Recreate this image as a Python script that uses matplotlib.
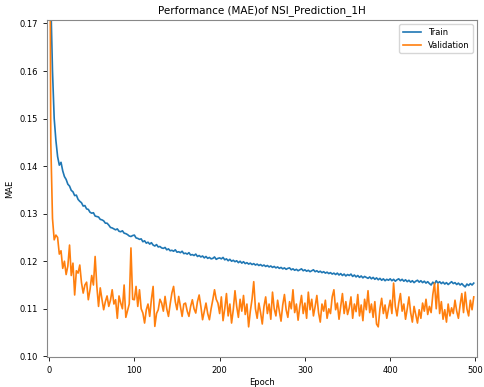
import numpy as np
import matplotlib
matplotlib.use('Agg')
import matplotlib.pyplot as plt

# Epochs (every second epoch)
epochs = np.arange(0, 500, 2)

# Training MAE
train_mae = [
    0.2450, 0.1750, 0.1600, 0.1500, 0.1454, 0.1420, 0.1402, 0.1408, 0.1390, 0.1378,
    0.1372, 0.1362, 0.1358, 0.1349, 0.1346, 0.1338, 0.1339, 0.1330, 0.1326, 0.1323,
    0.1316, 0.1317, 0.1310, 0.1309, 0.1303, 0.1301, 0.1302, 0.1295, 0.1294, 0.1293,
    0.1288, 0.1287, 0.1285, 0.1280, 0.1280, 0.1276, 0.1271, 0.1270, 0.1268, 0.1266,
    0.1268, 0.1263, 0.1262, 0.1264, 0.1259, 0.1258, 0.1256, 0.1253, 0.1252, 0.1254,
    0.1255, 0.1249, 0.1248, 0.1246, 0.1247, 0.1241, 0.1243, 0.1238, 0.1240, 0.1236,
    0.1239, 0.1234, 0.1232, 0.1235, 0.1230, 0.1231, 0.1228, 0.1227, 0.1229, 0.1224,
    0.1226, 0.1222, 0.1223, 0.1221, 0.1224, 0.1219, 0.1220, 0.1218, 0.1221, 0.1216,
    0.1217, 0.1215, 0.1218, 0.1213, 0.1214, 0.1212, 0.1215, 0.1210, 0.1212, 0.1209,
    0.1211, 0.1207, 0.1210, 0.1206, 0.1208, 0.1205, 0.1206, 0.1209, 0.1204, 0.1206,
    0.1207, 0.1205, 0.1208, 0.1203, 0.1205, 0.1201, 0.1204, 0.1200, 0.1202, 0.1199,
    0.1201, 0.1197, 0.1200, 0.1196, 0.1199, 0.1195, 0.1197, 0.1194, 0.1196, 0.1193,
    0.1195, 0.1192, 0.1194, 0.1191, 0.1193, 0.1190, 0.1192, 0.1189, 0.1191, 0.1188,
    0.1190, 0.1187, 0.1189, 0.1186, 0.1188, 0.1185, 0.1187, 0.1184, 0.1186, 0.1183,
    0.1185, 0.1186, 0.1182, 0.1184, 0.1181, 0.1183, 0.1180, 0.1182, 0.1184, 0.1180,
    0.1182, 0.1179, 0.1181, 0.1178, 0.1180, 0.1182, 0.1178, 0.1180, 0.1177, 0.1179,
    0.1176, 0.1178, 0.1175, 0.1177, 0.1174, 0.1176, 0.1173, 0.1175, 0.1172, 0.1175,
    0.1171, 0.1174, 0.1170, 0.1173, 0.1169, 0.1172, 0.1170, 0.1173, 0.1168, 0.1171,
    0.1167, 0.1170, 0.1166, 0.1169, 0.1165, 0.1168, 0.1166, 0.1164, 0.1167, 0.1163,
    0.1166, 0.1162, 0.1165, 0.1161, 0.1164, 0.1160, 0.1163, 0.1159, 0.1162, 0.1160,
    0.1163, 0.1159, 0.1162, 0.1158, 0.1161, 0.1163, 0.1159, 0.1162, 0.1158, 0.1161,
    0.1157, 0.1160, 0.1156, 0.1159, 0.1155, 0.1158, 0.1160, 0.1156, 0.1159, 0.1155,
    0.1158, 0.1154, 0.1157, 0.1153, 0.1150, 0.1156, 0.1152, 0.1159, 0.1154, 0.1157,
    0.1153, 0.1156, 0.1152, 0.1155, 0.1151, 0.1154, 0.1157, 0.1153, 0.1155, 0.1151,
    0.1154, 0.1150, 0.1153, 0.1149, 0.1146, 0.1152, 0.1149, 0.1153, 0.1150, 0.1154,
]

# Validation MAE
val_mae = [
    0.2350, 0.1450, 0.1290, 0.1245, 0.1255, 0.1250, 0.1215, 0.1222, 0.1185, 0.1200,
    0.1172, 0.1190, 0.1234, 0.1170, 0.1196, 0.1129, 0.1180, 0.1175, 0.1192, 0.1155,
    0.1133, 0.1150, 0.1156, 0.1119, 0.1140, 0.1170, 0.1150, 0.1210, 0.1147, 0.1105,
    0.1144, 0.1120, 0.1098, 0.1115, 0.1127, 0.1105, 0.1118, 0.1140, 0.1110, 0.1119,
    0.1080, 0.1127, 0.1112, 0.1100, 0.1150, 0.1082, 0.1096, 0.1110, 0.1228, 0.1120,
    0.1119, 0.1147, 0.1105, 0.1140, 0.1100, 0.1091, 0.1070, 0.1098, 0.1110, 0.1084,
    0.1120, 0.1147, 0.1063, 0.1090, 0.1098, 0.1120, 0.1112, 0.1095, 0.1126, 0.1100,
    0.1084, 0.1110, 0.1133, 0.1147, 0.1115, 0.1098, 0.1126, 0.1105, 0.1084, 0.1110,
    0.1112, 0.1095, 0.1084, 0.1105, 0.1119, 0.1100, 0.1091, 0.1115, 0.1129, 0.1105,
    0.1077, 0.1095, 0.1112, 0.1090, 0.1077, 0.1100, 0.1119, 0.1140, 0.1120, 0.1112,
    0.1090, 0.1125, 0.1075, 0.1100, 0.1132, 0.1085, 0.1110, 0.1070, 0.1098, 0.1138,
    0.1105, 0.1082, 0.1120, 0.1095, 0.1128, 0.1088, 0.1110, 0.1062, 0.1095, 0.1120,
    0.1157, 0.1100, 0.1080, 0.1112, 0.1092, 0.1068, 0.1105, 0.1125, 0.1090, 0.1110,
    0.1078, 0.1135, 0.1100, 0.1085, 0.1118, 0.1095, 0.1074, 0.1108, 0.1130, 0.1098,
    0.1082, 0.1115, 0.1100, 0.1140, 0.1092, 0.1110, 0.1076, 0.1105, 0.1128, 0.1090,
    0.1112, 0.1080, 0.1135, 0.1098, 0.1120, 0.1085, 0.1105, 0.1128, 0.1092, 0.1072,
    0.1110, 0.1095, 0.1118, 0.1080, 0.1100, 0.1090, 0.1125, 0.1140, 0.1098, 0.1112,
    0.1078, 0.1105, 0.1132, 0.1090, 0.1115, 0.1088, 0.1102, 0.1125, 0.1080, 0.1110,
    0.1094, 0.1130, 0.1085, 0.1108, 0.1075, 0.1120, 0.1098, 0.1138, 0.1092, 0.1110,
    0.1082, 0.1115, 0.1068, 0.1062, 0.1100, 0.1122, 0.1090, 0.1108, 0.1080, 0.1100,
    0.1118, 0.1090, 0.1154, 0.1105, 0.1085, 0.1112, 0.1132, 0.1095, 0.1110, 0.1078,
    0.1100, 0.1125, 0.1092, 0.1072, 0.1105, 0.1088, 0.1070, 0.1098, 0.1080, 0.1112,
    0.1095, 0.1120, 0.1088, 0.1105, 0.1092, 0.1130, 0.1154, 0.1100, 0.1152, 0.1090,
    0.1115, 0.1078, 0.1098, 0.1072, 0.1110, 0.1085, 0.1102, 0.1090, 0.1118, 0.1095,
    0.1080, 0.1108, 0.1132, 0.1092, 0.1135, 0.1100, 0.1085, 0.1118, 0.1098, 0.1125,
]

fig = plt.figure(figsize=(4.84, 3.87), dpi=100)
ax = fig.add_axes([0.097, 0.078, 0.888, 0.870])

ax.plot(epochs, train_mae, color='#1f77b4', linewidth=1.2, label='Train')
ax.plot(epochs, val_mae, color='#ff7f0e', linewidth=1.2, label='Validation')

ax.set_xlim(-2.5, 501.5)
ax.set_ylim(0.0999, 0.1707)
ax.set_xticks([0, 100, 200, 300, 400, 500])
ax.set_yticks([0.10, 0.11, 0.12, 0.13, 0.14, 0.15, 0.16, 0.17])
ax.set_yticklabels(['0.10', '0.11', '0.12', '0.13', '0.14', '0.15', '0.16', '0.17'])
ax.tick_params(labelsize=6, length=3, width=0.6)

for s in ax.spines.values():
    s.set_color('#888888')

ax.set_title('Performance (MAE)of NSI_Prediction_1H', fontsize=7.5, pad=5)
ax.set_xlabel('Epoch', fontsize=6, labelpad=2)
ax.set_ylabel('MAE', fontsize=6, labelpad=4)
ax.legend(loc='upper right', fontsize=6, handlelength=2.2)

fig.savefig('out.png', dpi=100)
